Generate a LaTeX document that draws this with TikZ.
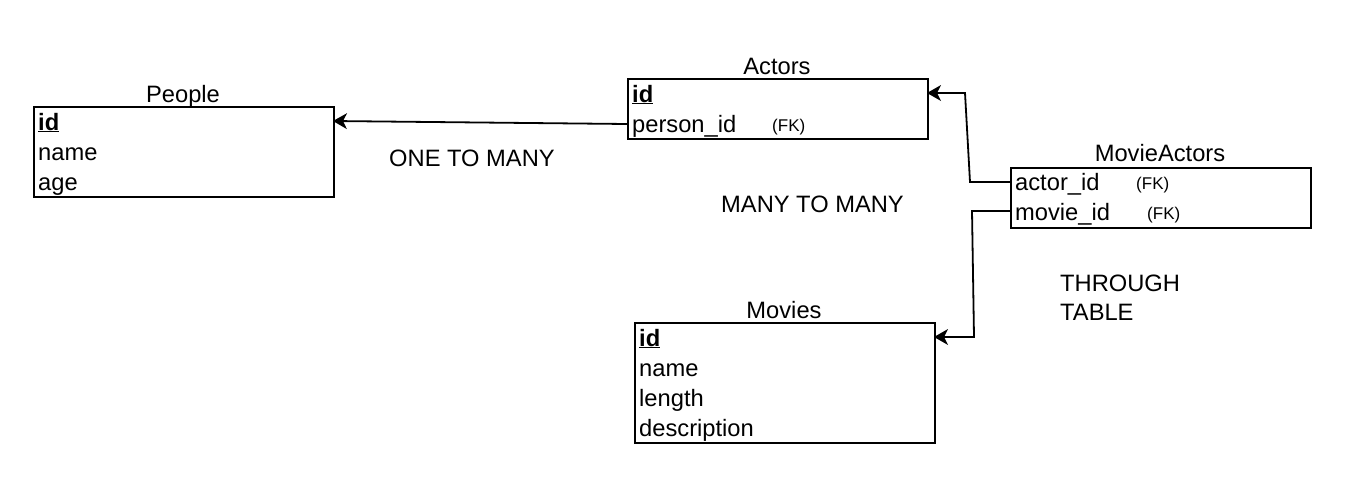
\documentclass[tikz,border=0pt]{standalone}
\usepackage{fontspec}
\setmainfont{Liberation Sans}
\usetikzlibrary{arrows.meta}
\tikzset{erarrow/.tip={Stealth[length=14pt,width=16pt,inset=4pt,line width=0pt]}}
\begin{document}
\begin{tikzpicture}[x=1pt,y=-1pt,
  tbl/.style={draw=black,line width=1.8pt,anchor=north west,inner sep=0pt,minimum width=300pt},
  row/.style={anchor=base west,inner sep=0pt,font=\fontsize{23.7}{28}\selectfont},
  ttl/.style={anchor=base,inner sep=0pt,font=\fontsize{23.7}{28}\selectfont},
  fk/.style={anchor=base west,inner sep=0pt,font=\fontsize{17}{20}\selectfont},
  lbl/.style={anchor=base west,inner sep=0pt,font=\fontsize{23.7}{28}\selectfont},
  conn/.style={draw=black,line width=1.8pt,-erarrow}
]
\useasboundingbox (0,0) rectangle (1348,480);
\fill[white] (0,0) rectangle (1348,480);

% People
\node[tbl,minimum height=90pt] (people) at (33,106) {};
\node[ttl] (peopleT) at (183,102) {People};
\node[row] (pid) at (38,130) {\underline{\textbf{id}}};
\node[row] (pname) at (38,160) {name};
\node[row] (page) at (38,190) {age};

% Actors
\node[tbl,minimum height=60pt] (actors) at (627,78) {};
\node[ttl] (actorsT) at (777,74) {Actors};
\node[row] (aid) at (632,102) {\underline{\textbf{id}}};
\node[row] (apid) at (632,132) {person\_id};
\node[fk] (afk) at (772,131) {(FK)};

% MovieActors
\node[tbl,minimum height=60pt] (ma) at (1010,167) {};
\node[ttl] (maT) at (1160,161) {MovieActors};
\node[row] (maaid) at (1015,190) {actor\_id};
\node[fk] (mafk1) at (1136,189) {(FK)};
\node[row] (mamid) at (1015,220) {movie\_id};
\node[fk] (mafk2) at (1147,219) {(FK)};

% Movies
\node[tbl,minimum height=120pt] (movies) at (634,322) {};
\node[ttl] (moviesT) at (784,318) {Movies};
\node[row] (mid) at (639,346) {\underline{\textbf{id}}};
\node[row] (mname) at (639,376) {name};
\node[row] (mlen) at (639,406) {length};
\node[row] (mdesc) at (639,436) {description};

% labels
\node[lbl] (l1) at (389,166) {ONE TO MANY};
\node[lbl] (l2) at (721,212) {MANY TO MANY};
\node[lbl] (l3) at (1060,291) {THROUGH};
\node[lbl] (l4) at (1060,320) {TABLE};

% connectors
\coordinate (p1) at (627,124);
\coordinate (p2) at (333,121);
\draw[conn] (p1) -- (p2);

\coordinate (a1) at (1010,182);
\coordinate (a2) at (970,182);
\coordinate (a3) at (965,93);
\coordinate (a4) at (927,93);
\draw[conn] (a1) -- (a2) -- (a3) -- (a4);

\coordinate (m1) at (1010,211);
\coordinate (m2) at (972,211);
\coordinate (m3) at (974,337);
\coordinate (m4) at (934,337);
\draw[conn] (m1) -- (m2) -- (m3) -- (m4);
\end{tikzpicture}
\end{document}
